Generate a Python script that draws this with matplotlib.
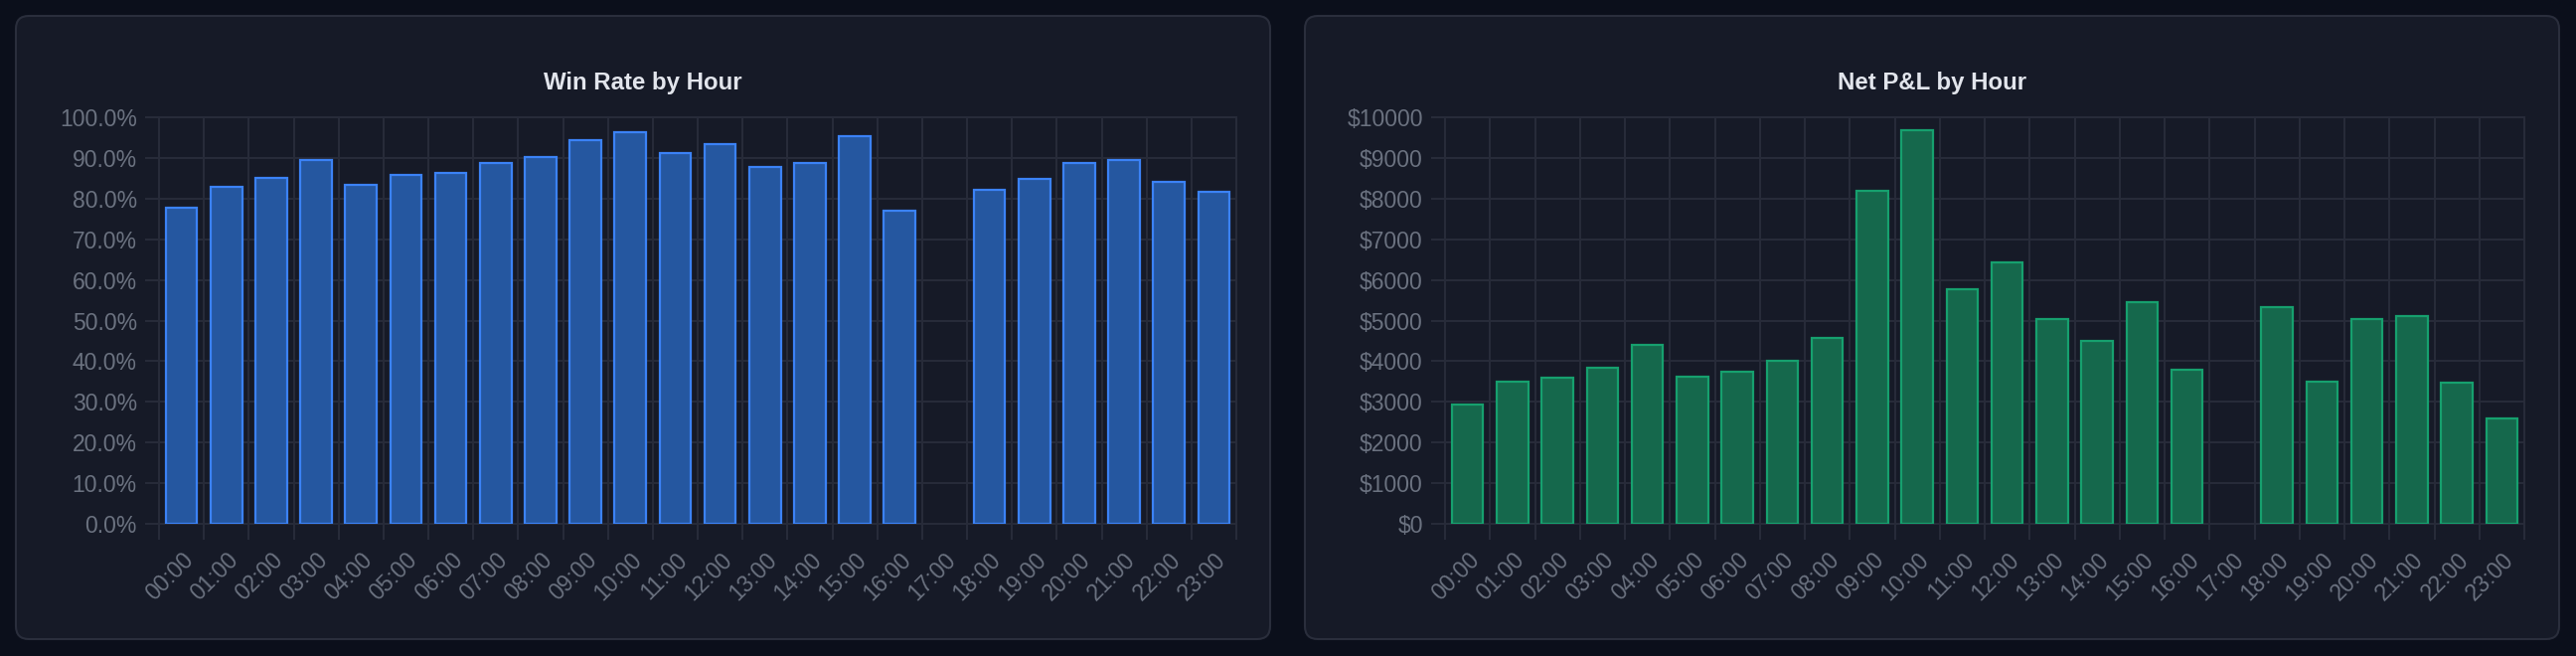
import matplotlib
matplotlib.use('Agg')
import matplotlib.pyplot as plt
from matplotlib.patches import FancyBboxPatch
from matplotlib.ticker import FuncFormatter
import numpy as np

plt.rcParams['font.family'] = ['Liberation Sans', 'DejaVu Sans']

# Data
hours = ['%02d:00' % h for h in range(24)]
win_rate = [77.7, 82.8, 85.2, 89.4, 83.3, 85.9, 86.3, 88.8, 90.2, 94.3, 96.3, 91.2,
            93.3, 87.7, 88.8, 95.4, 76.9, None, 82.2, 84.9, 88.8, 89.6, 84.1, 81.7]
net_pnl = [2930, 3500, 3600, 3840, 4390, 3630, 3730, 4010, 4570, 8190, 9670, 5760,
           6440, 5030, 4500, 5450, 3780, None, 5340, 3490, 5040, 5110, 3480, 2580]
win_ticks = np.arange(0, 101, 10)
pnl_ticks = np.arange(0, 10001, 1000)

# Colours
page_bg = '#0b0f1b'
card_bg = '#161a27'
card_edge = '#2a2e3c'
grid_col = '#282c3a'
tick_col = '#6b7280'
title_col = '#e2e5ec'


def add_card(fig, x0, y0, x1, y1):
    # card drawn in pixel-ish inches so the corners stay round
    card = FancyBboxPatch((x0 / 100, y0 / 100), (x1 - x0) / 100, (y1 - y0) / 100,
                          boxstyle='round,pad=0,rounding_size=0.13',
                          transform=fig.dpi_scale_trans, facecolor=card_bg,
                          edgecolor=card_edge, linewidth=1.5, zorder=-10)
    fig.patches.append(card)


def bar_panel(fig, rect, values, ticks, fmt, fill, edge, title, title_x):
    ax = fig.add_axes(rect)
    ax.set_facecolor('none')
    vals = np.array([np.nan if v is None else v for v in values], dtype=float)
    x = np.arange(len(hours))
    ax.bar(x, vals, width=0.7, color=fill, edgecolor=edge, linewidth=1.6, zorder=3)

    ax.set_xlim(-0.5, len(hours) - 0.5)
    ax.set_ylim(ticks[0], ticks[-1])
    ax.set_yticks(ticks)
    ax.yaxis.set_major_formatter(FuncFormatter(fmt))
    ax.set_xticks(x)
    ax.set_xticklabels(hours, rotation=45, ha='right', va='top', rotation_mode='anchor')
    ax.set_xticks(np.arange(-0.5, len(hours), 1), minor=True)

    ax.tick_params(axis='x', which='major', length=0, pad=18, labelsize=16.5, labelcolor=tick_col)
    ax.tick_params(axis='x', which='minor', length=11.5, width=1.4, color=grid_col)
    ax.tick_params(axis='y', which='major', length=10, width=1.4, color=grid_col,
                   pad=6, labelsize=16.5, labelcolor=tick_col)
    ax.grid(axis='x', which='minor', color=grid_col, linewidth=1.4, zorder=0)
    ax.grid(axis='y', which='major', color=grid_col, linewidth=1.4, zorder=0)
    for sp in ax.spines.values():
        sp.set_color(grid_col)
        sp.set_linewidth(1.4)

    fig.text(title_x, 0.874, title, ha='center', va='center', fontsize=17.3,
             fontweight='bold', color=title_col)
    return ax


fig = plt.figure(figsize=(25.92, 6.6), dpi=100, facecolor=page_bg)

add_card(fig, 16, 17, 1278, 644)
add_card(fig, 1313, 17, 2575, 644)

bar_panel(fig, [160 / 2592, 133 / 660, 1084 / 2592, 409 / 660], win_rate, win_ticks,
          lambda v, p: '%.1f%%' % v, '#2557a0', '#3b82f6',
          'Win Rate by Hour', 647 / 2592)
bar_panel(fig, [1454 / 2592, 133 / 660, 1086 / 2592, 409 / 660], net_pnl, pnl_ticks,
          lambda v, p: '$%d' % v, '#15684c', '#16a06e',
          'Net P&L by Hour', 1944 / 2592)

plt.savefig('out.png', dpi=100, facecolor=page_bg)
